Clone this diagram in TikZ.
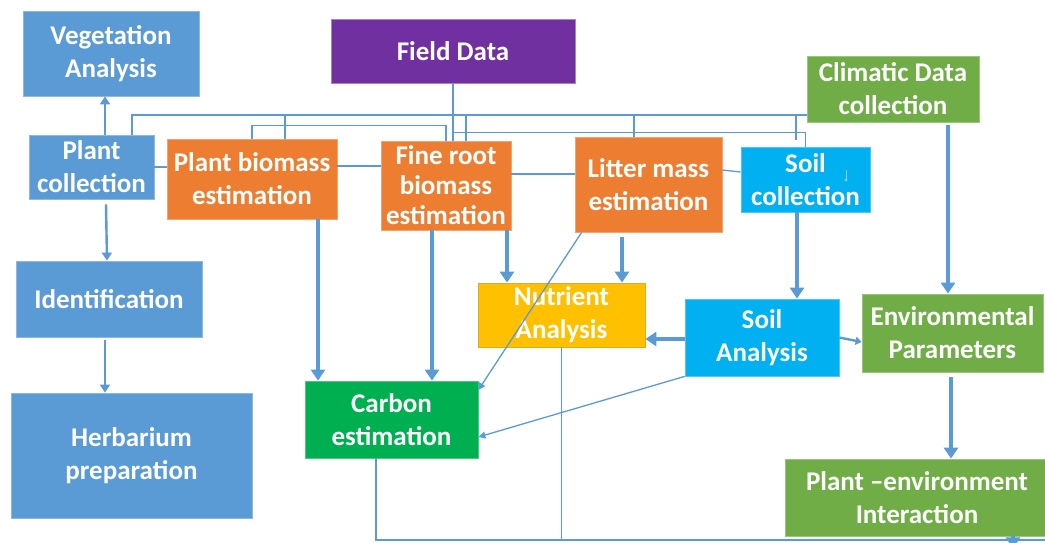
\documentclass[tikz,border=0pt]{standalone}
\usepackage{fontspec}
\setmainfont{Carlito}
\usetikzlibrary{arrows.meta,calc}
\definecolor{cBlue}{HTML}{5B9BD5}
\definecolor{cPurple}{HTML}{7030A0}
\definecolor{cGreen}{HTML}{70AD47}
\definecolor{cOrange}{HTML}{ED7D31}
\definecolor{cCyan}{HTML}{00B0F0}
\definecolor{cYellow}{HTML}{FFC000}
\definecolor{cDGreen}{HTML}{00B050}
\definecolor{cLine}{HTML}{5B9BD5}
\begin{document}
\begin{tikzpicture}[x=1pt,y=-1pt,
  box/.style={rectangle,inner sep=0pt,text=white,align=center,line width=0.8pt,
    font=\fontsize{27}{33}\selectfont\bfseries},
  thinln/.style={draw=cLine,line width=1.3pt},
  busln/.style={draw=cLine,line width=2.6pt},
  thickarr/.style={draw=cLine,line width=3.6pt,-{Triangle[length=11pt,width=14pt]}},
  medarr/.style={draw=cLine,line width=2.4pt,-{Triangle[length=8pt,width=10pt]}},
  thinarr/.style={draw=cLine,line width=1.3pt,-{Triangle[length=7pt,width=7pt]}},
]
\useasboundingbox (0,0) rectangle (1045,542);
\clip (0,0) rectangle (1045,542);
\fill[white] (0,0) rectangle (1045,542);

% boxes
\node[box,fill=cBlue,draw=cBlue!70!white,minimum width=176pt,minimum height=85pt] (veg) at (111,53.5) {Vegetation\\Analysis};
\node[box,fill=cPurple,draw=cPurple!60!white,minimum width=244pt,minimum height=64pt] (field) at (453,51) {Field Data};
\node[box,fill=cGreen,draw=cGreen!70!white,minimum width=172pt,minimum height=66pt] (clim) at (893,89) {Climatic Data\\collection};
\node[box,fill=cBlue,draw=cBlue!70!white,minimum width=125pt,minimum height=64pt] (pcoll) at (91.5,167) {Plant\\collection};
\node[box,fill=cOrange,draw=cOrange!70!white,minimum width=170pt,minimum height=80pt] (pbio) at (252,179) {Plant biomass\\estimation};
\node[box,fill=cOrange,draw=cOrange!70!white,minimum width=130pt,minimum height=89pt,font=\fontsize{27}{30}\selectfont\bfseries] (froot) at (446,185.5) {Fine root\\biomass\\estimation};
\node[box,fill=cOrange,draw=cOrange!70!white,minimum width=147pt,minimum height=95pt] (litter) at (648.5,184.5) {Litter mass\\estimation};
\node[box,fill=cCyan,draw=cCyan!70!white,minimum width=129pt,minimum height=65pt] (scoll) at (805.5,179.5) {Soil\\collection};
\node[box,fill=cBlue,draw=cBlue!70!white,minimum width=186pt,minimum height=76pt] (ident) at (109,299) {Identification};
\node[box,fill=cBlue,draw=cBlue!70!white,minimum width=241pt,minimum height=125pt] (herb) at (131.5,455.5) {Herbarium\\preparation};
\node[box,fill=cYellow,draw=cYellow!70!gray,minimum width=167pt,minimum height=64pt] (nutr) at (561.5,315) {Nutrient\\Analysis};
\node[box,fill=cCyan,draw=cCyan!70!white,minimum width=154pt,minimum height=77pt] (sanal) at (762,337.5) {Soil\\Analysis};
\node[box,fill=cGreen,draw=cGreen!70!white,minimum width=181pt,minimum height=78pt] (env) at (952.5,333) {Environmental\\Parameters};
\node[box,fill=cDGreen,draw=cDGreen!70!white,minimum width=173pt,minimum height=77pt] (carbon) at (391.5,419.5) {Carbon\\estimation};
\node[box,fill=cGreen,draw=cGreen!70!white,minimum width=264pt,minimum height=77pt] (penv) at (917,497.5) {Plant {\textendash}environment\\Interaction};

% coordinates
\coordinate (busL) at (132,115);
\coordinate (bot) at (0,540);
\coordinate (botR) at (1045,540);

% left column
\draw[medarr] ([xshift=13.5pt]pcoll.north) -- ([xshift=13.5pt]pcoll.north |- veg.south);
\draw[medarr] ([xshift=14.5pt,yshift=-5pt]pcoll.south) -- ([xshift=-2pt]ident.north);
\draw[medarr] ([xshift=-4pt,yshift=-3pt]ident.south) -- ([xshift=-4pt]ident.south |- herb.north);

% main bus
\draw[busln] ([xshift=40.5pt]pcoll.north) -- (busL) -- ([yshift=-26pt]clim.west);
\draw[busln] ([xshift=33pt]pbio.north) -- ([xshift=33pt]pbio.north |- busL);
\draw[busln] ([xshift=20pt]froot.north) -- ([xshift=20pt]froot.north |- busL);
\draw[busln] ([xshift=-14.5pt]litter.north) -- ([xshift=-14.5pt]litter.north |- busL);
\draw[busln] ([xshift=-9.5pt,yshift=7pt]scoll.north) -- ([xshift=-9.5pt]scoll.north |- busL);

% thin links at top
\draw[thinln] (field.south) -- (field.south |- froot.north);
\draw[thinln] (pbio.north) -- ++(0,-13) -| (froot.north);
\draw[thinln] ([yshift=-49pt]field.south) -| (scoll.north);
\draw[thinln] (pcoll.east) -- (pcoll.east -| pbio.west);
\draw[thinln] ([yshift=13pt]pbio.east) -- ([yshift=13pt]pbio.east -| froot.west);
\draw[thinln] ([yshift=11.5pt]froot.east) -- ([yshift=11.5pt]froot.east -| litter.west);
\draw[thinln] ([yshift=14.5pt]litter.east) -- ([yshift=7.5pt]scoll.west);
\draw[draw=cLine!60!white,line width=0.6pt,-{Triangle[length=3pt,width=3pt]}] ([xshift=40.5pt,yshift=9.5pt]scoll.center) -- ++(0,12);

% thick arrows
\draw[thickarr] ([xshift=66pt]pbio.south) -- ([xshift=66pt]pbio.south |- carbon.north);
\draw[thickarr] ([xshift=-14pt]froot.south) -- ([xshift=-14pt]froot.south |- carbon.north);
\draw[thickarr] ([xshift=61pt]froot.south) -- ([xshift=61pt]froot.south |- nutr.north);
\draw[thickarr] ([xshift=-26.5pt,yshift=-5pt]litter.south) -- ([xshift=-26.5pt]litter.south |- nutr.north);
\draw[thickarr] ([xshift=-8.5pt]scoll.south) -- ([xshift=-8.5pt]scoll.south |- sanal.north);
\draw[thickarr] ([xshift=55pt,yshift=-3pt]clim.south) -- ([xshift=55pt]clim.south |- env.north);
\draw[thickarr] ([xshift=-1.5pt,yshift=-5pt]env.south) -- ([xshift=-1.5pt]env.south |- penv.north);
\draw[thickarr] ([yshift=-1.5pt]sanal.west) -- ([yshift=-1.5pt]sanal.west -| nutr.east);
\draw[thickarr] ([xshift=96pt]penv.south) -- ++(0,12);

% thin arrows
\draw[thinarr] ([xshift=7pt]litter.south west) -- ([yshift=29.5pt]carbon.east);
\draw[thinarr] (sanal.south west) -- ([yshift=-17.5pt]carbon.east);
\draw[draw=cLine,line width=2.4pt,-{Triangle[length=6pt,width=8pt]}] (sanal.east) -- ([yshift=-9pt]env.west);

% bottom lines
\draw[thinln] ([xshift=-15.5pt]carbon.south) |- (botR);
\draw[thinln] (nutr.south) -- (nutr.south |- bot);
\end{tikzpicture}
\end{document}
